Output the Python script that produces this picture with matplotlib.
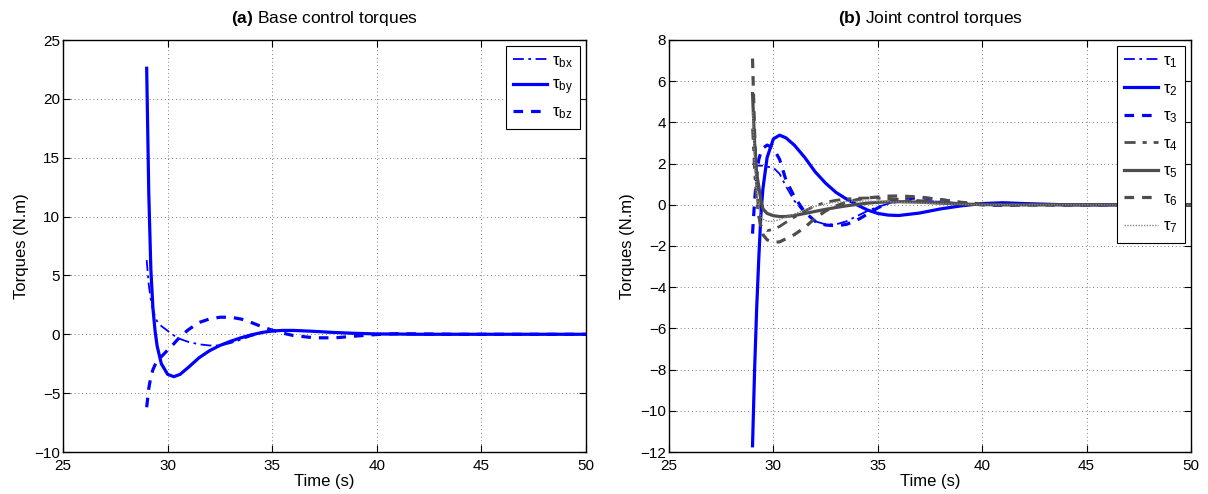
import matplotlib
matplotlib.use("Agg")
import matplotlib.pyplot as plt

plt.rcParams['font.family'] = ['Liberation Sans', 'DejaVu Sans']
plt.rcParams['mathtext.fontset'] = 'custom'
plt.rcParams['mathtext.rm'] = 'Liberation Sans'
plt.rcParams['mathtext.it'] = 'Liberation Sans'
plt.rcParams['mathtext.bf'] = 'Liberation Sans:bold'
plt.rcParams['mathtext.default'] = 'regular'

# ---------------- data ----------------
t = [29.0, 29.1, 29.2, 29.3, 29.4, 29.5, 29.7, 30.0, 30.3, 30.6, 31.0, 31.5,
     32.0, 32.5, 33.0, 33.5, 34.0, 34.5, 35.0, 35.5, 36.0, 37.0, 38.0, 39.0,
     40.0, 41.0, 42.0, 44.0, 46.0, 48.0, 50.0]

# (a) base control torques
tau_bx = [6.3, 4.2, 2.9, 2.1, 1.5, 1.1, 0.7, 0.3, -0.1, -0.4, -0.65, -0.85,
          -0.95, -0.95, -0.75, -0.45, -0.15, 0.1, 0.25, 0.32, 0.33, 0.25, 0.12, 0.05,
          0.0, 0.0, 0.0, 0.0, 0.0, 0.0, 0.0]
tau_by = [22.6, 12.0, 5.5, 2.2, 0.3, -1.0, -2.5, -3.4, -3.6, -3.4, -2.8, -2.0,
          -1.4, -0.95, -0.6, -0.3, -0.05, 0.15, 0.28, 0.33, 0.33, 0.25, 0.15, 0.08,
          0.03, 0.02, 0.0, 0.0, 0.0, 0.0, 0.0]
tau_bz = [-6.2, -4.6, -3.6, -3.0, -2.6, -2.3, -1.9, -1.35, -0.8, -0.2, 0.4, 1.0,
          1.3, 1.45, 1.45, 1.3, 1.0, 0.65, 0.35, 0.1, -0.1, -0.3, -0.3, -0.15,
          -0.02, 0.05, 0.03, 0.0, 0.0, 0.0, 0.0]

# (b) joint control torques
tau_1 = [2.0, 1.95, 1.9, 1.9, 1.9, 1.9, 1.85, 1.8, 1.5, 0.9, 0.2, -0.4,
         -0.8, -0.95, -0.95, -0.8, -0.55, -0.3, -0.1, 0.05, 0.15, 0.2, 0.15, 0.06,
         0.0, 0.0, 0.0, 0.0, 0.0, 0.0, 0.0]
tau_2 = [-11.7, -8.0, -5.0, -2.6, -0.5, 0.8, 2.3, 3.2, 3.38, 3.25, 2.9, 2.3,
         1.6, 1.05, 0.6, 0.28, 0.0, -0.25, -0.42, -0.5, -0.52, -0.4, -0.2, -0.05,
         0.06, 0.1, 0.06, 0.0, 0.0, 0.0, 0.0]
tau_3 = [-1.4, 0.2, 1.4, 2.2, 2.55, 2.75, 2.9, 2.75, 2.2, 1.2, 0.4, -0.35,
         -0.8, -0.98, -1.02, -0.95, -0.75, -0.45, -0.15, 0.1, 0.25, 0.35, 0.25, 0.1,
         0.0, -0.03, 0.0, 0.0, 0.0, 0.0, 0.0]
tau_4 = [3.7, 1.6, 0.2, -0.6, -1.0, -1.15, -1.25, -1.2, -1.05, -0.85, -0.6, -0.3,
         -0.05, 0.12, 0.22, 0.28, 0.32, 0.33, 0.32, 0.3, 0.27, 0.2, 0.12, 0.06,
         0.02, 0.0, 0.0, 0.0, 0.0, 0.0, 0.0]
tau_5 = [5.4, 3.0, 1.5, 0.9, 0.2, -0.2, -0.42, -0.53, -0.57, -0.57, -0.52, -0.42,
         -0.32, -0.22, -0.13, -0.05, 0.02, 0.08, 0.12, 0.14, 0.15, 0.13, 0.08, 0.04,
         0.01, 0.0, 0.0, 0.0, 0.0, 0.0, 0.0]
tau_6 = [7.1, 3.5, 1.0, -0.4, -1.1, -1.45, -1.7, -1.82, -1.8, -1.65, -1.45, -1.1,
         -0.65, -0.3, -0.05, 0.12, 0.25, 0.33, 0.38, 0.42, 0.43, 0.38, 0.25, 0.12,
         0.04, 0.0, 0.0, 0.0, 0.0, 0.0, 0.0]
tau_7 = [4.5, 2.0, 0.6, -0.2, -0.55, -0.7, -0.8, -0.8, -0.72, -0.6, -0.45, -0.25,
         -0.08, 0.05, 0.12, 0.16, 0.18, 0.18, 0.17, 0.15, 0.13, 0.09, 0.05, 0.02,
         0.0, 0.0, 0.0, 0.0, 0.0, 0.0, 0.0]

left_labels = [r'τ$_{bx}$', r'τ$_{by}$', r'τ$_{bz}$']
right_labels = [r'τ$_{1}$', r'τ$_{2}$', r'τ$_{3}$', r'τ$_{4}$', r'τ$_{5}$', r'τ$_{6}$', r'τ$_{7}$']
left_yticks = list(range(-10, 30, 5))
right_yticks = list(range(-12, 10, 2))
xticks = [25, 30, 35, 40, 45, 50]

BLUE = '#0000ff'
GRAY = '#4d4d4d'

fig = plt.figure(figsize=(12.08, 4.94), dpi=100)
axL = fig.add_axes([63/1208, 42/494, 523/1208, 412/494])
axR = fig.add_axes([669/1208, 42/494, 522/1208, 412/494])

axL.plot(t, tau_bx, color=BLUE, lw=1.3, ls=(0, (6, 2.5, 1.5, 2.5)), label=left_labels[0])
axL.plot(t, tau_by, color=BLUE, lw=2.3, ls='-', label=left_labels[1])
axL.plot(t, tau_bz, color=BLUE, lw=2.3, ls=(0, (3, 2.5)), label=left_labels[2])

axR.plot(t, tau_1, color=BLUE, lw=1.3, ls=(0, (6, 2.5, 1.5, 2.5)), label=right_labels[0])
axR.plot(t, tau_2, color=BLUE, lw=2.3, ls='-', label=right_labels[1])
axR.plot(t, tau_3, color=BLUE, lw=2.3, ls=(0, (3, 2.5)), label=right_labels[2])
axR.plot(t, tau_4, color=GRAY, lw=2.0, ls=(0, (4, 2.5, 1.5, 2.5)), label=right_labels[3])
axR.plot(t, tau_5, color=GRAY, lw=2.3, ls='-', label=right_labels[4])
axR.plot(t, tau_6, color=GRAY, lw=2.3, ls=(0, (3, 2.5)), label=right_labels[5])
axR.plot(t, tau_7, color='#888888', lw=1.0, ls=(0, (1, 1)), label=right_labels[6])

for ax, yt, ylim in [(axL, left_yticks, (-10, 25)), (axR, right_yticks, (-12, 8))]:
    ax.set_xlim(25, 50)
    ax.set_ylim(*ylim)
    ax.set_xticks(xticks)
    ax.set_yticks(yt)
    ax.grid(True, color='#555555', ls=(0, (1, 3.5)), lw=0.6)
    ax.tick_params(direction='in', top=True, right=True, labelsize=11, length=5, width=0.8, pad=2)
    ax.tick_params(axis='x', pad=5)
    for s in ax.spines.values():
        s.set_linewidth(1.0)
    ax.set_xlabel('Time (s)', fontsize=12, labelpad=1)
    ax.set_ylabel('Torques (N.m)', fontsize=12, labelpad=4)

axL.set_title(r'$\bf{(a)}$ Base control torques', fontsize=12.5, pad=12)
axR.set_title(r'$\bf{(b)}$ Joint control torques', fontsize=12.5, pad=12)

legkw = dict(loc='upper right', fontsize=12, frameon=True, fancybox=False, framealpha=1,
             edgecolor='black', handlelength=2.0, handletextpad=0.3,
             borderaxespad=0.35)
lgL = axL.legend(labelspacing=0.45, borderpad=0.45, **legkw)
lgR = axR.legend(labelspacing=0.65, borderpad=0.45, **legkw)
for lg in (lgL, lgR):
    lg.get_frame().set_linewidth(0.8)

fig.savefig('out.png', dpi=100)
